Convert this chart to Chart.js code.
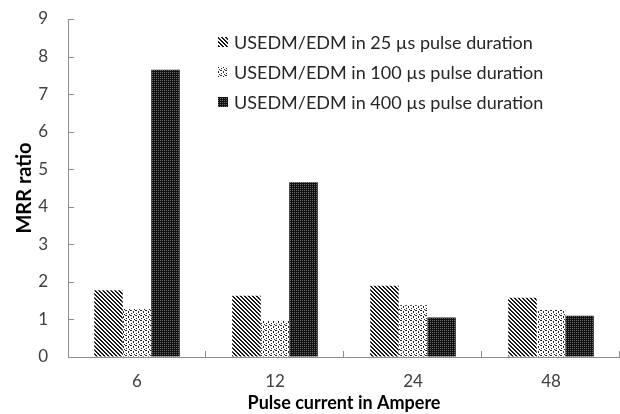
<!DOCTYPE html>
<html>
<head>
<meta charset="utf-8">
<script src="https://cdn.jsdelivr.net/npm/chart.js@4"></script>
<style>
  html, body { margin: 0; padding: 0; background: #fff; }
  #wrap { width: 620px; height: 414px; }
</style>
</head>
<body>
<div id="wrap"><canvas id="chart" width="620" height="414"></canvas></div>
<script>
// data
const currents = ['6', '12', '24', '48'];
const ratio25 = [1.78, 1.63, 1.9, 1.58];
const ratio100 = [1.28, 0.96, 1.38, 1.25];
const ratio400 = [7.65, 4.65, 1.05, 1.1];
const seriesNames = [
  'USEDM/EDM in 25 \u00b5s pulse duration',
  'USEDM/EDM in 100 \u00b5s pulse duration',
  'USEDM/EDM in 400 \u00b5s pulse duration'
];

const FONT = 'Lato, "Open Sans", sans-serif';
const TEXT = '#404040';
const AXIS = '#8c8c8c';

// fill patterns like the old Excel hatches
function makePattern(kind) {
  const c = document.createElement('canvas');
  const g = c.getContext('2d');
  if (kind === 'diag') {
    c.width = c.height = 4;
    g.fillStyle = '#fff';
    g.fillRect(0, 0, 4, 4);
    g.fillStyle = '#1a1a1a';
    for (let i = 0; i < 4; i++) {
      g.fillRect(i, i, 1, 1);
      g.fillRect((i + 1) % 4, i, 1, 1);
    }
  } else if (kind === 'dots') {
    c.width = c.height = 5;
    g.fillStyle = '#fff';
    g.fillRect(0, 0, 5, 5);
    g.fillStyle = '#262626';
    g.fillRect(0, 0, 2, 1);
    g.fillRect(3, 1, 1, 2);
    g.fillRect(1, 3, 1, 1);
    g.fillRect(4, 4, 1, 1);
  } else {
    c.width = c.height = 2;
    g.fillStyle = '#111';
    g.fillRect(0, 0, 2, 2);
    g.fillStyle = '#6a6a6a';
    g.fillRect(0, 0, 1, 1);
  }
  return g.createPattern(c, 'repeat');
}

const fills = [makePattern('diag'), makePattern('dots'), makePattern('dark')];

// Excel style: ticks pointing into the plot
const insideTicks = {
  id: 'insideTicks',
  afterDraw(chart) {
    const ctx = chart.ctx;
    const x = chart.scales.x, y = chart.scales.y;
    ctx.save();
    ctx.strokeStyle = AXIS;
    ctx.lineWidth = 1;
    ctx.beginPath();
    y.ticks.forEach((t, i) => {
      const py = Math.round(y.getPixelForTick(i)) + 0.5;
      ctx.moveTo(x.left, py);
      ctx.lineTo(x.left + 6, py);
    });
    const step = (x.right - x.left) / currents.length;
    for (let i = 1; i <= currents.length; i++) {
      const px = Math.round(x.left + step * i) - 0.5;
      ctx.moveTo(px, y.bottom);
      ctx.lineTo(px, y.bottom - 6);
    }
    ctx.stroke();
    ctx.restore();
  }
};

// legend stacked inside the plot, top middle
const boxLegend = {
  id: 'boxLegend',
  afterDraw(chart) {
    const ctx = chart.ctx;
    const area = chart.chartArea;
    const left = area.left + 150;
    ctx.save();
    ctx.font = '18px ' + FONT;
    ctx.textBaseline = 'middle';
    chart.data.datasets.forEach((ds, i) => {
      const cy = area.top + 23 + i * 30;
      ctx.fillStyle = ds.backgroundColor;
      ctx.fillRect(left, cy - 5, 10, 10);
      ctx.fillStyle = '#262626';
      ctx.fillText(ds.label, left + 16, cy + 1);
    });
    ctx.restore();
  }
};

new Chart(document.getElementById('chart'), {
  type: 'bar',
  data: {
    labels: currents,
    datasets: [
      { label: seriesNames[0], data: ratio25, backgroundColor: fills[0] },
      { label: seriesNames[1], data: ratio100, backgroundColor: fills[1] },
      { label: seriesNames[2], data: ratio400, backgroundColor: fills[2] }
    ]
  },
  options: {
    responsive: false,
    animation: false,
    devicePixelRatio: 1,
    layout: { padding: { top: 19, right: 0, left: 0, bottom: 0 } },
    datasets: { bar: { categoryPercentage: 0.62, barPercentage: 1 } },
    plugins: {
      legend: { display: false },
      tooltip: { enabled: false }
    },
    scales: {
      x: {
        grid: { display: false, drawTicks: false },
        border: { color: AXIS, width: 1 },
        ticks: { color: TEXT, font: { family: FONT, size: 17, lineHeight: 1 }, padding: 16 },
        title: {
          display: true,
          text: 'Pulse current in Ampere',
          color: '#000',
          font: { family: FONT, size: 18, weight: 'bold', lineHeight: 1 },
          padding: { top: 0, bottom: 2 }
        },
        afterFit(scale) { scale.height = 57; }
      },
      y: {
        min: 0,
        max: 9,
        ticks: { stepSize: 1, color: TEXT, font: { family: FONT, size: 17 }, padding: 3 },
        // transparent tick marks only push the labels off the axis
        grid: { display: true, drawOnChartArea: false, drawTicks: true, tickLength: 17, color: 'rgba(0,0,0,0)' },
        border: { color: AXIS, width: 1 },
        title: {
          display: true,
          text: 'MRR ratio',
          color: '#000',
          font: { family: FONT, size: 20, weight: 'bold' },
          padding: { top: 13, bottom: 4 }
        },
        afterFit(scale) { scale.width = 68; }
      }
    }
  },
  plugins: [insideTicks, boxLegend]
});
</script>
</body>
</html>
